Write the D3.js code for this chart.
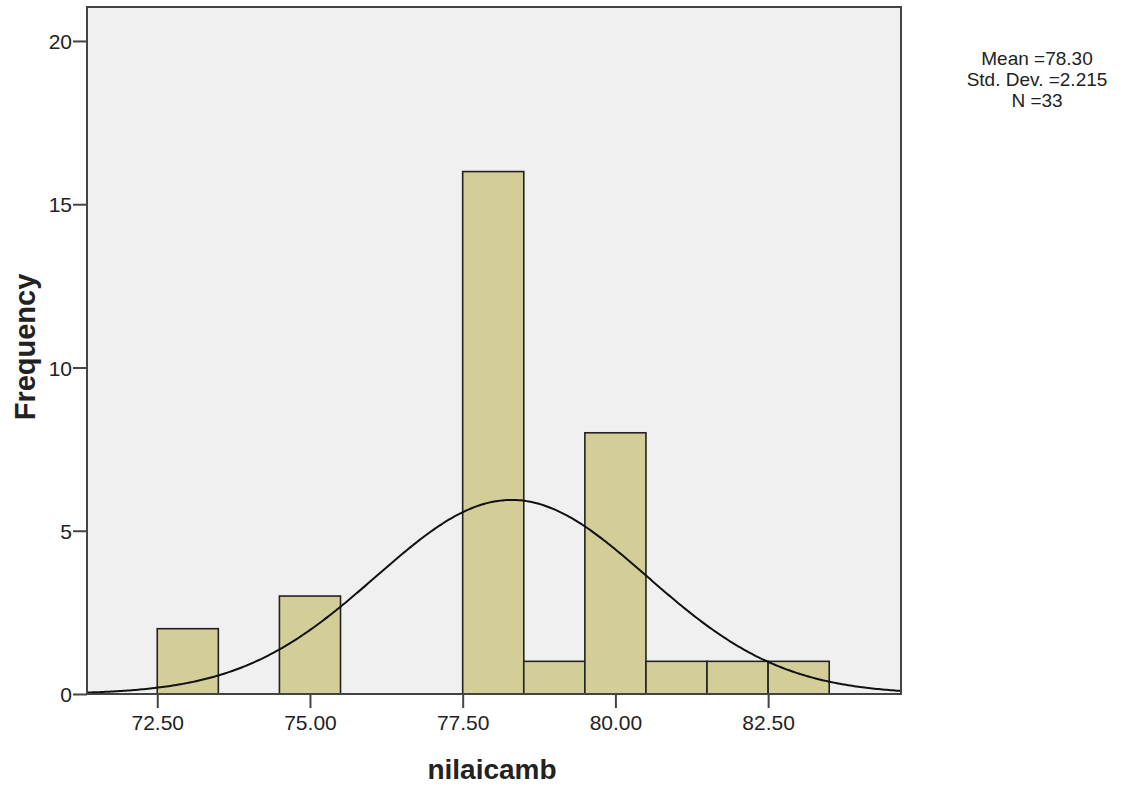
<!DOCTYPE html>
<html><head><meta charset="utf-8">
<script src="https://cdn.jsdelivr.net/npm/d3@7"></script>
<style>body{margin:0;background:#fff}svg{display:block}text{font-family:"Liberation Sans",Arial,sans-serif;fill:#222}</style>
</head><body><svg id="c" width="1147" height="791"></svg>
<script>
const binStarts = [72.5, 74.5, 77.5, 78.5, 79.5, 80.5, 81.5, 82.5];
const binCounts = [2, 3, 16, 1, 8, 1, 1, 1];
const binWidth = 1;
const xTicks = [72.5, 75.0, 77.5, 80.0, 82.5];
const yTicks = [0, 5, 10, 15, 20];
const xDomain = [71.35, 84.675];
const yDomain = [0, 21.04];
const stats = { mean: 78.30, sd: 2.215, n: 33 };
const statLines = ["Mean =78.30", "Std. Dev. =2.215", "N =33"];

const svg = d3.select("#c");
const L = 87, R = 901, T = 7, B = 694;
const x = d3.scaleLinear().domain(xDomain).range([L, R]);
const y = d3.scaleLinear().domain(yDomain).range([B, T]);

svg.append("rect").attr("x", L).attr("y", T).attr("width", R - L).attr("height", B - T).attr("fill", "#f0f0f0");

svg.append("g").selectAll("rect").data(binStarts).join("rect")
  .attr("x", d => x(d)).attr("width", d => x(d + binWidth) - x(d))
  .attr("y", (d, i) => y(binCounts[i])).attr("height", (d, i) => y(0) - y(binCounts[i]))
  .attr("fill", "#d3ce97").attr("stroke", "#222").attr("stroke-width", 1.6);

const pdf = v => stats.n * binWidth / (stats.sd * Math.sqrt(2 * Math.PI)) * Math.exp(-0.5 * ((v - stats.mean) / stats.sd) ** 2);
const pts = d3.range(0, 401).map(i => xDomain[0] + (xDomain[1] - xDomain[0]) * i / 400);
svg.append("path").attr("d", d3.line().x(d => x(d)).y(d => y(pdf(d)))(pts))
  .attr("fill", "none").attr("stroke", "#111").attr("stroke-width", 2);

svg.append("rect").attr("x", L).attr("y", T).attr("width", R - L).attr("height", B - T)
  .attr("fill", "none").attr("stroke", "#444").attr("stroke-width", 2);

const xa = svg.append("g").attr("transform", `translate(0,${B})`)
  .call(d3.axisBottom(x).tickValues(xTicks).tickFormat(d3.format(".2f")).tickSize(14).tickSizeOuter(0));
xa.select(".domain").remove();
xa.selectAll("line").attr("stroke", "#444").attr("stroke-width", 2);
xa.selectAll("text").attr("font-size", 21).attr("dy", "0").attr("y", 36).attr("fill", "#222");

const ya = svg.append("g").attr("transform", `translate(${L},0)`)
  .call(d3.axisLeft(y).tickValues(yTicks).tickSize(14).tickSizeOuter(0));
ya.select(".domain").remove();
ya.selectAll("line").attr("stroke", "#444").attr("stroke-width", 2);
ya.selectAll("text").attr("font-size", 21).attr("x", -15).attr("dy", "0.36em").attr("fill", "#222");
svg.selectAll(".tick text").attr("font-family", "'Liberation Sans', Arial, sans-serif");

svg.append("text").attr("transform", "translate(35,347) rotate(-90)").attr("text-anchor", "middle")
  .attr("font-size", 29).attr("font-weight", "bold").attr("fill", "#111").text("Frequency");
svg.append("text").attr("x", 492).attr("y", 779).attr("text-anchor", "middle")
  .attr("font-size", 28).attr("font-weight", "bold").attr("fill", "#111").text("nilaicamb");

svg.append("g").selectAll("text").data(statLines).join("text")
  .attr("x", 1037).attr("y", (d, i) => 65 + i * 21).attr("text-anchor", "middle")
  .attr("font-size", 19).text(d => d);
</script></body></html>
